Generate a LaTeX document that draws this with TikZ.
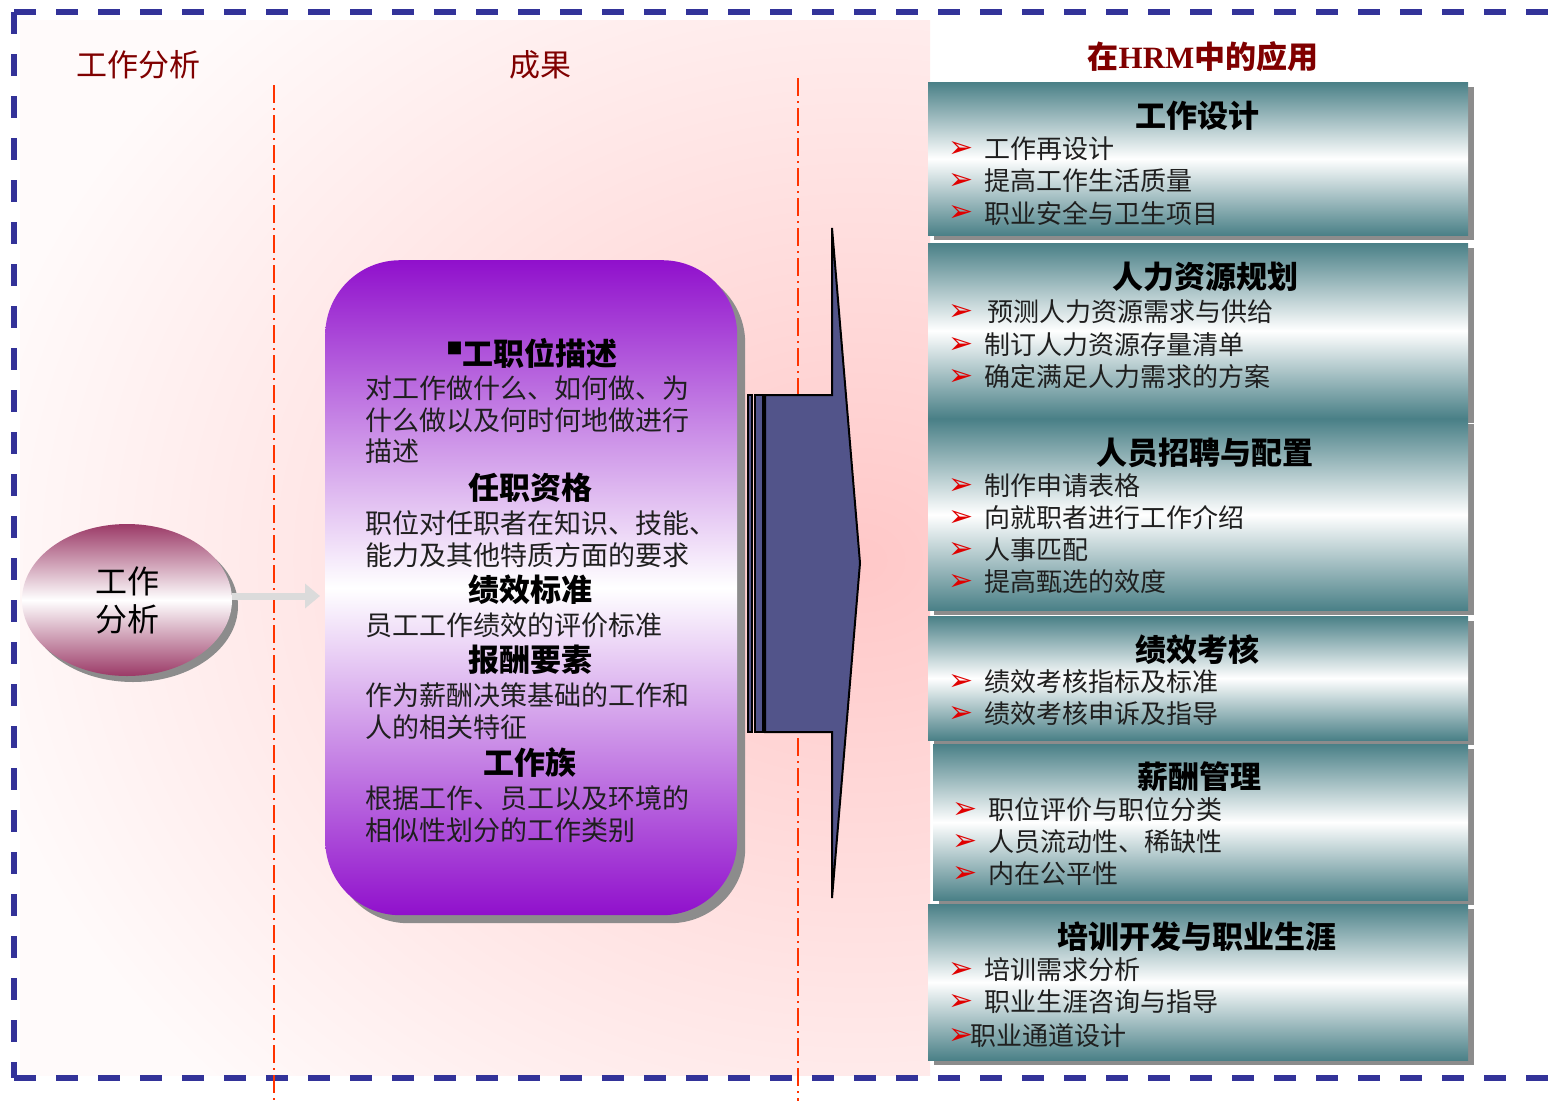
\documentclass[tikz,border=0pt]{standalone}
\usepackage{fontspec}
\setmainfont{Liberation Serif}
\newfontfamily\cjk{Noto Sans CJK SC}
\newfontfamily\dejavu{DejaVu Sans}
\usetikzlibrary{shapes.geometric,arrows.meta,shadows}
\definecolor{dashblue}{HTML}{333399}
\definecolor{hdred}{HTML}{800000}
\definecolor{vline}{HTML}{FF3300}
\definecolor{navyarr}{HTML}{52548A}
\definecolor{tealbox}{HTML}{4A8087}
\definecolor{plumc}{HTML}{9B3A67}
\definecolor{purp}{HTML}{9010CC}
\definecolor{pinkbg}{HTML}{FFC8C8}
\definecolor{pinkedge}{HTML}{FFFAFA}
\definecolor{bulred}{HTML}{E00000}
\newcommand\appitem[5]{%
  \node[bulletst] (#1b) at (#2,#4) {➢};
  \node[itemtxt] (#1) at (#3,#4) {#5};}
\begin{document}
\begin{tikzpicture}[x=1pt,y=-1pt,
  hdr/.style={font=\cjk\fontsize{31}{31}\selectfont, text=hdred, inner sep=0pt},
  ptitle/.style={font=\cjk\bfseries\fontsize{31}{31}\selectfont, inner sep=0pt, text=black},
  ptext/.style={font=\cjk\fontsize{27}{27}\selectfont, anchor=west, inner sep=0pt, text=black!88},
  btitle/.style={font=\cjk\bfseries\fontsize{31}{31}\selectfont, inner sep=0pt, text=black},
  itemtxt/.style={font=\cjk\fontsize{26}{26}\selectfont, anchor=west, inner sep=0pt, text=black!88},
  bulletst/.style={font=\dejavu\fontsize{30}{30}\selectfont, text=bulred, anchor=west, inner sep=0pt},
  appbox/.style={rectangle, draw=none, anchor=north west, inner sep=0pt,
     top color=tealbox, bottom color=tealbox, middle color=white,
     drop shadow={shadow xshift=6pt, shadow yshift=-5pt, fill=black!45, opacity=1}},
  redline/.style={vline, line width=2pt, dash pattern=on 18pt off 5pt on 2pt off 5pt},
  border/.style={dashblue, line width=6pt, dash pattern=on 22pt off 20pt},
  garrow/.style={black!14, line width=7pt, -{Triangle[length=15pt,width=24pt]}},
]
\useasboundingbox (0,0) rectangle (1554,1101);
\fill[white] (0,0) rectangle (1554,1101);
% pink glow
\fill[pinkedge] (20,20) rectangle (930,1075);
\begin{scope}
  \clip (20,20) rectangle (930,1075);
  \shade[inner color=pinkbg, outer color=pinkedge] (-40,-190) rectangle (1760,1310);
\end{scope}
% border
\draw[border] (14,12) -- (1554,12);
\draw[border] (14,12) -- (14,1078);
\draw[border] (14,1078) -- (1554,1078);
% red separators
\coordinate (l1t) at (274,85);
\coordinate (l1b) at (274,1101);
\coordinate (l2t) at (798,78);
\coordinate (l2b) at (798,1101);
\draw[redline] (l1t) -- (l1b);
\draw[redline] (l2t) -- (l2b);
% headers
\node[hdr] (h1) at (138,65) {工作分析};
\node[hdr] (h2) at (540,65) {成果};
\node[hdr, font=\cjk\bfseries\fontsize{31}{31}\selectfont] (h3) at (1203,57) {在{\rmfamily\bfseries HRM}中的应用};
% ellipse
\node[ellipse, minimum width=210pt, minimum height=152pt, inner sep=0pt,
  top color=plumc, bottom color=plumc, middle color=white,
  drop shadow={shadow xshift=6pt, shadow yshift=-6pt, fill=black!45, opacity=1},
  align=center, font=\cjk\fontsize{32}{38}\selectfont] (ell) at (127,600) {工作\\分析};
% purple box
\node[rectangle, rounded corners=75pt, minimum width=412pt, minimum height=655pt, inner sep=0pt,
  anchor=north west, top color=purp, bottom color=purp, middle color=white,
  drop shadow={shadow xshift=8pt, shadow yshift=-8pt, fill=black!45, opacity=1}] (pbox) at (325,260) {};
\coordinate (gs) at ([yshift=4pt]ell.east);
\draw[garrow, shorten >=5pt] (gs) -- (gs -| pbox.west);
% purple box text
\node[ptitle] (pt1) at (532,353) {{\fontsize{16}{16}\selectfont\raisebox{11pt}{■}}工职位描述};
\node[ptext] (p11) at (365,388) {对工作做什么、如何做、为};
\node[ptext] (p12) at (365,420) {什么做以及何时何地做进行};
\node[ptext] (p13) at (365,451) {描述};
\node[ptitle] (pt2) at (530,488) {任职资格};
\node[ptext] (p21) at (365,523) {职位对任职者在知识、技能、};
\node[ptext] (p22) at (365,555) {能力及其他特质方面的要求};
\node[ptitle] (pt3) at (530,590) {绩效标准};
\node[ptext] (p31) at (365,625) {员工工作绩效的评价标准};
\node[ptitle] (pt4) at (530,660) {报酬要素};
\node[ptext] (p41) at (365,695) {作为薪酬决策基础的工作和};
\node[ptext] (p42) at (365,727) {人的相关特征};
\node[ptitle] (pt5) at (530,763) {工作族};
\node[ptext] (p51) at (365,798) {根据工作、员工以及环境的};
\node[ptext] (p52) at (365,830) {相似性划分的工作类别};
% big navy arrow
\draw[fill=navyarr, draw=black, line width=1.5pt] (748,395) rectangle (752,732);
\draw[fill=navyarr, draw=black, line width=1.5pt] (755,395) rectangle (763,732);
\draw[fill=navyarr, draw=black, line width=2pt, line join=miter]
  (765,395) -- (832,395) -- (832,228) -- (860,563) -- (832,898) -- (832,732) -- (765,732) -- cycle;
% right boxes
\node[appbox, minimum width=540pt, minimum height=153pt] (b1) at (928,82) {};
\node[appbox, minimum width=540pt, minimum height=175pt] (b2) at (928,243) {};
\node[appbox, minimum width=540pt, minimum height=191pt] (b3) at (928,419) {};
\node[appbox, minimum width=540pt, minimum height=124pt] (b4) at (928,616) {};
\node[appbox, minimum width=535pt, minimum height=156pt] (b5) at (933,744) {};
\node[appbox, minimum width=540pt, minimum height=156pt] (b6) at (928,904) {};
% box 1
\node[btitle] (t1) at (1197,116) {工作设计};
\appitem{i11}{948}{984}{149}{工作再设计}
\appitem{i12}{948}{984}{181}{提高工作生活质量}
\appitem{i13}{948}{984}{213}{职业安全与卫生项目}
% box 2
\node[btitle] (t2) at (1205,277) {人力资源规划};
\appitem{i21}{948}{987}{312}{预测人力资源需求与供给}
\appitem{i22}{948}{984}{345}{制订人力资源存量清单}
\appitem{i23}{948}{984}{377}{确定满足人力需求的方案}
% box 3
\node[btitle] (t3) at (1205,453) {人员招聘与配置};
\appitem{i31}{948}{984}{486}{制作申请表格}
\appitem{i32}{948}{984}{518}{向就职者进行工作介绍}
\appitem{i33}{948}{984}{550}{人事匹配}
\appitem{i34}{948}{984}{582}{提高甄选的效度}
% box 4
\node[btitle] (t4) at (1197,650) {绩效考核};
\appitem{i41}{948}{984}{682}{绩效考核指标及标准}
\appitem{i42}{948}{984}{714}{绩效考核申诉及指导}
% box 5
\node[btitle] (t5) at (1199,777) {薪酬管理};
\appitem{i51}{952}{988}{810}{职位评价与职位分类}
\appitem{i52}{952}{988}{842}{人员流动性、稀缺性}
\appitem{i53}{952}{988}{874}{内在公平性}
% box 6
\node[btitle] (t6) at (1197,937) {培训开发与职业生涯};
\appitem{i61}{948}{984}{970}{培训需求分析}
\appitem{i62}{948}{984}{1002}{职业生涯咨询与指导}
\appitem{i63}{948}{970}{1036}{职业通道设计}
\end{tikzpicture}
\end{document}
